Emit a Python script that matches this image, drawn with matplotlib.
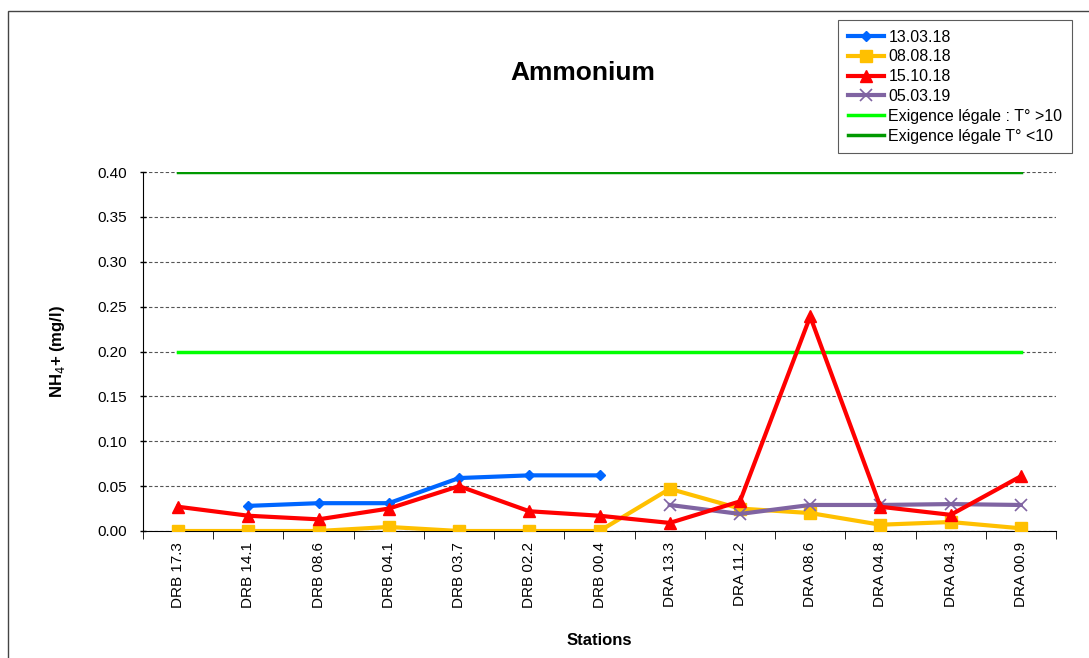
import numpy as np
import matplotlib.pyplot as plt
from matplotlib.patches import Rectangle

plt.rcParams['font.family'] = ['Liberation Sans', 'DejaVu Sans']

# stations and values (mg/l)
stations = ["DRB 17.3", "DRB 14.1", "DRB 08.6", "DRB 04.1", "DRB 03.7", "DRB 02.2", "DRB 00.4",
            "DRA 13.3", "DRA 11.2", "DRA 08.6", "DRA 04.8", "DRA 04.3", "DRA 00.9"]
nan = np.nan
s_130318 = [nan, 0.028, 0.031, 0.031, 0.059, 0.062, 0.062, nan, nan, nan, nan, nan, nan]
s_080818 = [0.0, 0.0, 0.0, 0.0045, 0.0, 0.0, 0.0, 0.047, 0.025, 0.020, 0.007, 0.010, 0.003]
s_151018 = [0.027, 0.017, 0.013, 0.025, 0.050, 0.022, 0.017, 0.009, 0.033, 0.239, 0.027, 0.018, 0.061]
s_050319 = [nan, nan, nan, nan, nan, nan, nan, 0.029, 0.019, 0.029, 0.029, 0.030, 0.029]
lim_sup10 = [0.20] * len(stations)
lim_inf10 = [0.40] * len(stations)

x = np.arange(len(stations))

fig = plt.figure(figsize=(10.89, 6.58), dpi=100)
# cadre exterieur
fig.patches.append(Rectangle((8 / 1089, -0.05), 1.2, 1 - 11 / 658 + 0.05, transform=fig.transFigure,
                             fill=False, edgecolor='#444444', lw=1.0))
ax = fig.add_axes([143 / 1089, 1 - 531 / 658, (1056 - 143) / 1089, (531 - 172) / 658])

ax.plot(x, s_130318, color='#0066ff', lw=3, marker='D', ms=5, label='13.03.18', zorder=5)
ax.plot(x, s_080818, color='#ffc000', lw=3, marker='s', ms=8, label='08.08.18', zorder=4)
ax.plot(x, s_151018, color='#ff0000', lw=3, marker='^', ms=8, label='15.10.18', zorder=6)
ax.plot(x, s_050319, color='#8064a2', lw=3, marker='x', ms=9, mew=1.2, label='05.03.19', zorder=5)
ax.plot(x, lim_sup10, color='#00ff00', lw=2.5, label='Exigence légale : T° >10', zorder=3)
ax.plot(x, lim_inf10, color='#009900', lw=2.5, label='Exigence légale T° <10', zorder=3)

ax.set_xlim(-0.5, len(stations) - 0.5)
ax.set_ylim(0, 0.40)
ax.set_yticks(np.arange(0, 0.401, 0.05))
ax.set_yticklabels([f"{v:.2f}" for v in np.arange(0, 0.401, 0.05)], fontsize=11)
ax.yaxis.grid(True, linestyle=(0, (3, 2)), color='#555555', lw=0.8)
ax.set_axisbelow(True)
ax.set_xticks(x)
ax.set_xticklabels(stations, rotation=90, fontsize=11)
ax.tick_params(axis='x', length=0, pad=8)
ax.set_xticks(np.arange(-0.5, len(stations), 1), minor=True)
ax.tick_params(axis='x', which='minor', length=6, direction='out')
ax.tick_params(axis='y', length=5, direction='inout', width=1, pad=9)

ax.spines['top'].set_visible(False)
ax.spines['right'].set_visible(False)

ax.set_ylabel("NH$_4$+ (mg/l)", fontsize=12, fontweight='bold', labelpad=22)
ax.set_xlabel("Stations", fontsize=12, fontweight='bold', labelpad=18)
fig.text(583 / 1089, 1 - 73 / 658, "Ammonium", fontsize=19, fontweight='bold', ha='center', va='center')

leg = fig.legend(loc='upper left', bbox_to_anchor=(838 / 1089, 1 - 20 / 658), fontsize=11.5,
                 frameon=True, fancybox=False, edgecolor='#333333', handlelength=2.3,
                 borderpad=0.6, labelspacing=0.3, handletextpad=0.25, borderaxespad=0)
leg.get_frame().set_linewidth(0.8)

fig.savefig("out.png", dpi=100)
